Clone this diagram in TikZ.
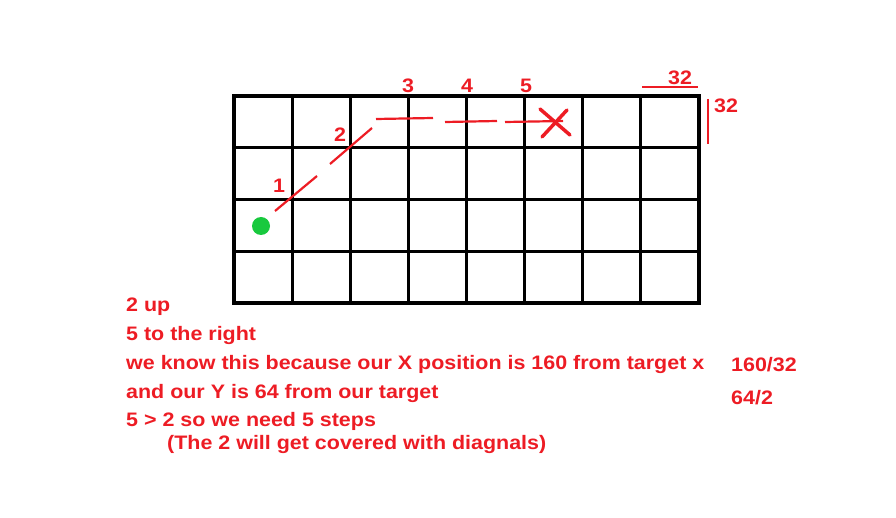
\documentclass[tikz,border=0pt]{standalone}
\usepackage{fontspec}
\setmainfont{Liberation Sans}[FakeStretch=1.1]
\definecolor{paintred}{HTML}{ED1C24}
\definecolor{paintgreen}{HTML}{18C93E}
\tikzset{
  note/.style={anchor=west,inner sep=0pt,text=paintred,font=\fontsize{19.5}{22}\selectfont\bfseries},
  tag/.style={inner sep=0pt,text=paintred,font=\fontsize{19.5}{22}\selectfont\bfseries},
  stroke/.style={paintred,line width=2.2pt}
}
\begin{document}
\begin{tikzpicture}[x=1pt,y=-1pt]
   \useasboundingbox (0,0) rectangle (896,518);
   % grid of tiles
   \foreach \i in {0,...,8}
      \draw [line width=3.2pt,line cap=rect] (234+\i*58.125,96) -- (234+\i*58.125,303);
   \foreach \j in {0,...,4}
      \draw [line width=3.2pt,line cap=rect] (234,96+\j*51.75) -- (699,96+\j*51.75);
   % start and target
   \fill [paintgreen] (261,226) circle (9pt);
   \draw [paintred,line width=3.5pt,line cap=round] (540,109) -- (570,135);
   \draw [paintred,line width=3.5pt,line cap=round] (542,137) -- (567,110);
   % path of steps
   \draw [stroke] (275,211) -- (317,176);
   \draw [stroke] (330,164) -- (372,128);
   \draw [stroke] (376,119) -- (433,118);
   \draw [stroke] (445,122) -- (497,121);
   \draw [stroke] (505,122) -- (563,121);
   \node [tag] (s1) at (279,186) {1};
   \node [tag] (s2) at (340,135) {2};
   \node [tag] (s3) at (408,86) {3};
   \node [tag] (s4) at (467,86) {4};
   \node [tag] (s5) at (526,86) {5};
   % tile size
   \draw [stroke] (642,87) -- (698,87);
   \draw [stroke] (708,99) -- (708,144);
   \node [tag] (w) at (680,78) {32};
   \node [tag] (h) at (726,106) {32};
   % notes
   \node [note] (n1) at (126,307) {2 up};
   \node [note] (n2) at (126,336) {5 to the right};
   \node [note] (n3) at (126,365) {we know this because our X position is 160 from target x};
   \node [note] (n4) at (126,393) {and our Y is 64 from our target};
   \node [note] (n5) at (126,421) {5 > 2 so we need 5 steps};
   \node [note] (n6) at (167,444) {(The 2 will get covered with diagnals)};
   \node [note] (r1) at (731,365) {160/32};
   \node [note] (r2) at (731,398) {64/2};
\end{tikzpicture}
\end{document}
